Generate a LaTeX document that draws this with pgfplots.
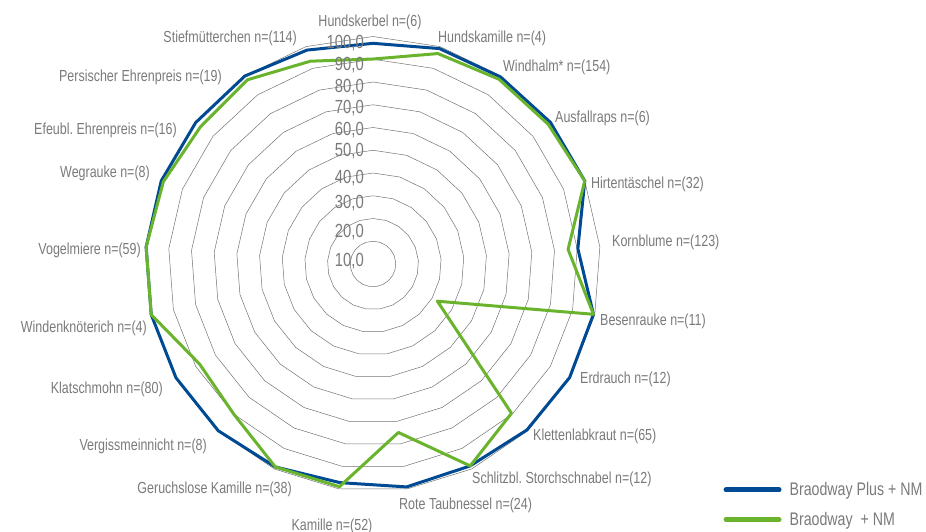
\documentclass[border=0pt]{standalone}
\usepackage{fontspec}
\setmainfont{Liberation Sans}[FakeStretch=0.78]
\usepackage{pgfplots}
\usepgfplotslibrary{polar}
\pgfplotsset{compat=1.18}
\usepackage{pgfplotstable}
\frenchspacing
\definecolor{bblue}{RGB}{0,74,147}
\definecolor{bgreen}{RGB}{106,180,45}
\definecolor{lgray}{RGB}{122,122,122}
\definecolor{ggray}{RGB}{115,115,115}

\pgfplotstableread{
k blue green
0 97.0 90.1
1 99.1 96.8
2 99.5 98.3
3 99.8 98.5
4 100 100
5 90.3 86.0
6 99.4 99.4
7 99.8 32.7
8 99.5 89.5
9 98.5 98.5
10 99.1 74.9
11 97.2 99.0
12 99.0 99.0
13 100 90.0
14 100 88.0
15 100 100
16 100 100
17 100 99.0
18 99.7 96.9
19 100 98.0
20 98.4 93.3
21 97.0 90.1
}\radardata

\newcommand{\lab}{\fontsize{16}{19}\selectfont\color{lgray}}
\newcommand{\tlab}{\fontsize{19}{21}\selectfont\color{lgray}}

\begin{document}
\begin{tikzpicture}
\path[use as bounding box] (0,0) rectangle (926pt,532pt);
\begin{polaraxis}[
  hide axis, scale only axis, width=455pt, height=455pt,
  at={(373pt,268pt)}, anchor=center,
  xmin=0, xmax=360, ymin=0, ymax=100, clip=false,
  legend style={draw=none, fill=none, at={(axis description cs:1.270,0.02)}, anchor=north west,
    font=\fontsize{18.2}{20}\selectfont, text=lgray, row sep=15pt, column sep=8pt,
    inner sep=0pt, nodes={inner sep=0pt}},
  legend cell align=left,
  legend image code/.code={\draw[#1, line width=5pt, line cap=round] (0pt,0pt) -- (53pt,0pt);}
]
\pgfplotsinvokeforeach{10,20,...,100}{
  \addplot[ggray, line width=0.5pt, mark=none, forget plot] table[x expr={90-\thisrow{k}*360/21}, y expr=#1]{\radardata};
}
\addplot[bblue, line width=3pt, line join=round, mark=none] table[x expr={90-\thisrow{k}*360/21}, y=blue]{\radardata};
\addlegendentry{Braodway Plus + NM}
\addplot[bgreen, line width=3pt, line join=round, mark=none] table[x expr={90-\thisrow{k}*360/21}, y=green]{\radardata};
\addlegendentry{Braodway~ + NM}
\end{polaraxis}

\begin{scope}[every node/.style={inner sep=0pt}]
\node[anchor=east] at (364pt,489pt) {\tlab 100,0};
\node[anchor=east] at (364pt,467pt) {\tlab 90,0};
\node[anchor=east] at (364pt,445pt) {\tlab 80,0};
\node[anchor=east] at (364pt,424pt) {\tlab 70,0};
\node[anchor=east] at (364pt,402pt) {\tlab 60,0};
\node[anchor=east] at (364pt,381pt) {\tlab 50,0};
\node[anchor=east] at (364pt,354pt) {\tlab 40,0};
\node[anchor=east] at (364pt,329pt) {\tlab 30,0};
\node[anchor=east] at (364pt,300pt) {\tlab 20,0};
\node[anchor=east] at (364pt,271pt) {\tlab 10,0};

\node[anchor=center] at (370pt,510pt) {\lab Hundskerbel n=(6)};
\node[anchor=west] at (438pt,494pt) {\lab Hundskamille n=(4)};
\node[anchor=west] at (503pt,465pt) {\lab Windhalm* n=(154)};
\node[anchor=west] at (555pt,414pt) {\lab Ausfallraps n=(6)};
\node[anchor=west] at (591pt,348pt) {\lab Hirtentäschel n=(32)};
\node[anchor=west] at (612pt,290pt) {\lab Kornblume n=(123)};
\node[anchor=west] at (600pt,211pt) {\lab Besenrauke n=(11)};
\node[anchor=west] at (580pt,153pt) {\lab Erdrauch n=(12)};
\node[anchor=west] at (533pt,96pt) {\lab Klettenlabkraut n=(65)};
\node[anchor=west] at (472pt,53pt) {\lab Schlitzbl. Storchschnabel n=(12)};
\node[anchor=west] at (399pt,27pt) {\lab Rote Taubnessel n=(24)};
\node[anchor=center] at (332pt,6pt) {\lab Kamille n=(52)};
\node[anchor=east] at (292pt,43pt) {\lab Geruchslose Kamille n=(38)};
\node[anchor=east] at (207pt,86pt) {\lab Vergissmeinnicht n=(8)};
\node[anchor=east] at (163pt,143pt) {\lab Klatschmohn n=(80)};
\node[anchor=east] at (147pt,204pt) {\lab Windenknöterich n=(4)};
\node[anchor=east] at (141pt,282pt) {\lab Vogelmiere n=(59)};
\node[anchor=east] at (150pt,359pt) {\lab Wegrauke n=(8)};
\node[anchor=east] at (177pt,402pt) {\lab Efeubl. Ehrenpreis n=(16)};
\node[anchor=east] at (222pt,455pt) {\lab Persischer Ehrenpreis n=(19)};
\node[anchor=east] at (297pt,494pt) {\lab Stiefmütterchen n=(114)};
\end{scope}
\end{tikzpicture}
\end{document}
